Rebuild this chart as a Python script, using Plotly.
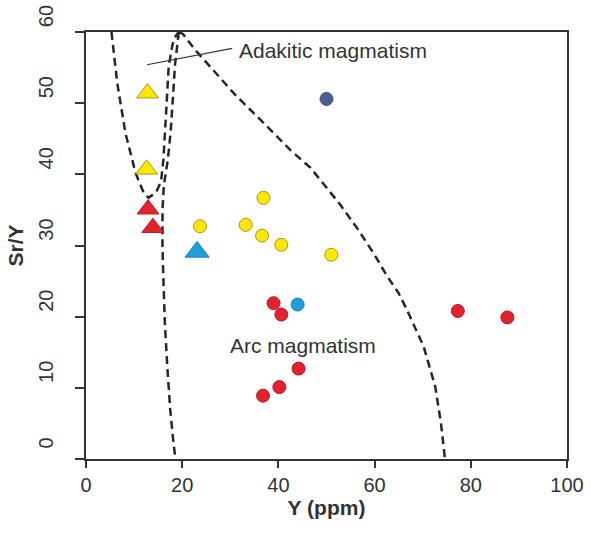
import plotly.graph_objects as go

# ---- data ----
# circles
yellow_circ_x = [23.7, 36.9, 33.2, 36.6, 40.6, 51.0]
yellow_circ_y = [32.7, 36.7, 32.9, 31.4, 30.1, 28.7]
red_circ_x = [39.0, 40.6, 36.8, 40.2, 44.2, 77.3, 87.6]
red_circ_y = [21.9, 20.3, 8.9, 10.1, 12.7, 20.8, 19.9]
blue_circ_x = [44.0]
blue_circ_y = [21.7]
navy_circ_x = [50.0]
navy_circ_y = [50.6]
# triangles
yellow_tri_x = [12.8, 12.6]
yellow_tri_y = [51.4, 40.7]
red_tri_x = [12.9, 13.9]
red_tri_y = [35.1, 32.5]
blue_tri_x = [23.1]
blue_tri_y = [29.1]

# field boundaries (dashed)
curve_a_x = [5.3, 6.5, 8.2, 10.3, 12.0, 13.0, 14.6, 15.6, 16.1, 16.4, 16.8, 17.2, 18.0, 18.7, 19.3]
curve_a_y = [60, 52.8, 45.8, 40.2, 37.4, 36.7, 37.5, 39.0, 42.1, 46.0, 51.0, 55.2, 58.3, 59.5, 60]
curve_b_x = [19.3, 19.0, 18.5, 18.1, 17.6, 17.0, 16.2, 15.9, 15.9, 16.1, 16.4, 16.9, 17.5, 18.2, 18.6]
curve_b_y = [60, 58.5, 55.4, 51.0, 46.0, 42.0, 38.5, 35.0, 30.0, 25.0, 19.0, 13.0, 7.0, 2.2, 0]
curve_c_x = [19.3, 20.2, 21.2, 22.8, 25.2, 30.7, 37.7, 42.5, 46.7, 52.9, 56.5, 59.8, 62.6, 65.0, 66.7,
             68.5, 70.2, 72.6, 73.8, 74.5, 74.6]
curve_c_y = [60, 59.7, 58.8, 57.4, 55.6, 51.4, 46.7, 43.4, 40.9, 35.7, 32.3, 28.9, 25.7, 23.3, 21.0,
             18.3, 15.8, 10.2, 5.0, 0.8, 0]
leader_x = [12.7, 30.4]
leader_y = [55.4, 57.7]

x_ticks = [0, 20, 40, 60, 80, 100]
y_ticks = [0, 10, 20, 30, 40, 50, 60]

FONT = "Liberation Sans, Arial, sans-serif"
TXT = "#333333"
DASH_COL = "#262626"

fig = go.Figure()

for xs, ys in [(curve_a_x, curve_a_y), (curve_b_x, curve_b_y), (curve_c_x, curve_c_y)]:
    fig.add_trace(go.Scatter(x=xs, y=ys, mode="lines", hoverinfo="skip",
                             line=dict(color=DASH_COL, width=2.5, dash="8px,5px")))

fig.add_trace(go.Scatter(x=leader_x, y=leader_y, mode="lines",
                         line=dict(color="#333333", width=1.2)))

def add_markers(xs, ys, symbol, size, fill, edge):
    fig.add_trace(go.Scatter(x=xs, y=ys, mode="markers",
                             marker=dict(symbol=symbol, size=size, color=fill,
                                         line=dict(color=edge, width=1))))

add_markers(yellow_circ_x, yellow_circ_y, "circle", 13, "#FFE800", "#A8961E")
add_markers(red_circ_x, red_circ_y, "circle", 13, "#E3232B", "#B31B22")
add_markers(blue_circ_x, blue_circ_y, "circle", 13, "#1E9FDC", "#1A86BA")
add_markers(navy_circ_x, navy_circ_y, "circle", 13, "#4B5F93", "#3F507D")
add_markers(yellow_tri_x, yellow_tri_y, "triangle-up", 19, "#FFE800", "#A8961E")
add_markers(red_tri_x, red_tri_y, "triangle-up", 19, "#E3232B", "#B31B22")
add_markers(blue_tri_x, blue_tri_y, "triangle-up", 21, "#1E9FDC", "#1A86BA")

fig.add_annotation(x=31.4, y=57.4, text="Adakitic magmatism", showarrow=False,
                   xanchor="left", yanchor="middle", font=dict(family=FONT, size=21, color=TXT))
fig.add_annotation(x=29.6, y=16.0, text="Arc magmatism", showarrow=False,
                   xanchor="left", yanchor="middle", font=dict(family=FONT, size=21, color=TXT))

fig.update_layout(
    width=591, height=533,
    margin=dict(l=86, r=24, t=32, b=74, autoexpand=False),
    paper_bgcolor="white", plot_bgcolor="white",
    showlegend=False,
    font=dict(family=FONT, color=TXT),
)
fig.update_xaxes(
    range=[0, 100], tickvals=x_ticks, ticktext=[str(v) for v in x_ticks],
    automargin=False,
    showgrid=False, zeroline=False,
    showline=True, linecolor="#333333", linewidth=1.5, mirror=True,
    ticks="outside", ticklen=7, tickwidth=1.5, tickcolor="#333333",
    tickfont=dict(family=FONT, size=20, color=TXT),
    title=dict(text="<b>Y (ppm)</b>", font=dict(family=FONT, size=21, color=TXT), standoff=4),
)
fig.update_yaxes(
    range=[0, 60], tickvals=y_ticks, ticktext=[str(v) for v in y_ticks],
    automargin=False,
    showgrid=False, zeroline=False,
    showline=True, linecolor="#333333", linewidth=1.5, mirror=True,
    ticks="outside", ticklen=9, tickwidth=1.5, tickcolor="#333333",
    tickangle=-90, ticklabelshift=-13, ticklabelstandoff=14,
    tickfont=dict(family=FONT, size=20, color=TXT),
    title=dict(text="<b>Sr/Y</b>", font=dict(family=FONT, size=21, color=TXT), standoff=6),
)

fig.write_html("out.html")
